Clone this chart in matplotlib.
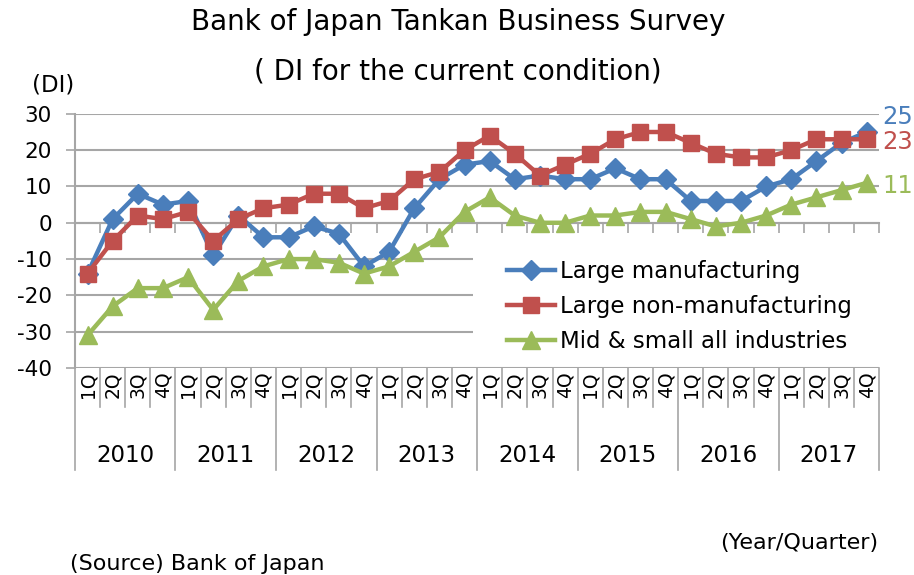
import matplotlib.pyplot as plt
import matplotlib.transforms as mtransforms
import matplotlib.patches as mpatches

years = ['2010', '2011', '2012', '2013', '2014', '2015', '2016', '2017']
quarters = ['1Q', '2Q', '3Q', '4Q']

large_mfg = [-14, 1, 8, 5, 6, -9, 2, -4, -4, -1, -3, -12, -8, 4, 12, 16,
             17, 12, 13, 12, 12, 15, 12, 12, 6, 6, 6, 10, 12, 17, 22, 25]
large_nonmfg = [-14, -5, 2, 1, 3, -5, 1, 4, 5, 8, 8, 4, 6, 12, 14, 20,
                24, 19, 13, 16, 19, 23, 25, 25, 22, 19, 18, 18, 20, 23, 23, 23]
mid_small = [-31, -23, -18, -18, -15, -24, -16, -12, -10, -10, -11, -14, -12, -8, -4, 3,
             7, 2, 0, 0, 2, 2, 3, 3, 1, -1, 0, 2, 5, 7, 9, 11]

series = [
    ('Large manufacturing', large_mfg, '#4a7ebb', 'D', 10.5, 15),
    ('Large non-manufacturing', large_nonmfg, '#c0504d', 's', 12, -3),
    ('Mid & small all industries', mid_small, '#9bbb59', '^', 12.5, -3),
]

plt.rcParams['font.family'] = 'DejaVu Sans'
plt.rcParams['axes.unicode_minus'] = False
fig = plt.figure(figsize=(9.14, 5.75), dpi=100)
ax = fig.add_axes([0.082, 0.36, 0.880, 0.442])

x = list(range(len(large_mfg)))
grid_c = '#a6a6a6'

for label, vals, col, mk, ms, dy in series:
    ax.plot(x, vals, color=col, lw=3.2, marker=mk, ms=ms, label=label, clip_on=False, zorder=3)
    ax.annotate(str(vals[-1]), xy=(x[-1], vals[-1]), xytext=(16, dy), textcoords='offset pixels',
                color=col, fontsize=17.5, va='center', ha='left', annotation_clip=False)

ax.set_xlim(-0.5, len(x) - 0.5)
ax.set_ylim(-40, 30)
ax.set_yticks(range(-40, 31, 10))
ax.yaxis.grid(True, color=grid_c, lw=1.5)
ax.set_axisbelow(True)
ax.tick_params(axis='y', labelsize=15.5, length=6.5, width=1.2, color=grid_c, pad=10)

for s in ['top', 'right']:
    ax.spines[s].set_visible(False)
ax.spines['left'].set_color(grid_c)
ax.spines['left'].set_linewidth(1.5)
ax.spines['bottom'].set_position(('data', 0))
ax.spines['bottom'].set_color(grid_c)
ax.spines['bottom'].set_linewidth(1.5)
ax.set_xticks([i - 0.5 for i in range(len(x) + 1)])
ax.tick_params(axis='x', length=7, width=1.2, color=grid_c, labelbottom=False)

# two-level category labels under the plot
trans = mtransforms.blended_transform_factory(ax.transData, ax.transAxes)
for i in range(len(x) + 1):
    ybot = -0.40 if i % 4 == 0 else -0.155
    ax.plot([i - 0.5, i - 0.5], [0, ybot], transform=trans, color=grid_c, lw=1.2, clip_on=False)
for i in x:
    ax.text(i, -0.015, quarters[i % 4], transform=trans, rotation=90, ha='center', va='top',
            fontsize=13.5)
for k, yr in enumerate(years):
    ax.text(4 * k + 1.5, -0.345, yr, transform=trans, ha='center', va='center', fontsize=16.5)

# white box behind the legend hides the grid on the right
ax.add_patch(mpatches.Rectangle((0.495, 0.03), 0.505, 0.49, transform=ax.transAxes,
                                facecolor='white', edgecolor='none', zorder=2))
ax.legend(loc='upper left', bbox_to_anchor=(0.537, 0.423), fontsize=16.5, frameon=False,
          handlelength=2.1, handletextpad=0.2, labelspacing=0.52, borderpad=0, borderaxespad=0)

fig.text(0.501, 0.962, 'Bank of Japan Tankan Business Survey', ha='center', va='center', fontsize=20)
fig.text(0.501, 0.875, '( DI for the current condition)', ha='center', va='center', fontsize=20)
fig.text(0.035, 0.852, '(DI)', ha='left', va='center', fontsize=16.5)
fig.text(0.961, 0.055, '(Year/Quarter)', ha='right', va='center', fontsize=16)
fig.text(0.077, 0.02, '(Source) Bank of Japan', ha='left', va='center', fontsize=16)

fig.savefig('out.png', dpi=100)
